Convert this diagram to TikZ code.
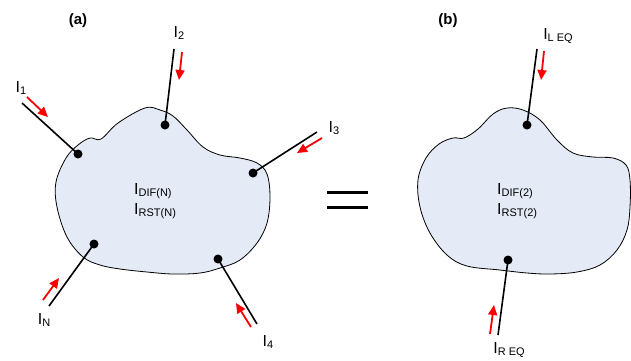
\documentclass[tikz,border=0pt]{standalone}
\usepackage{fontspec}
\setmainfont{Liberation Sans}
\usepackage{tikz}
\usetikzlibrary{arrows.meta, positioning, calc}
\definecolor{blobfill}{RGB}{228, 235, 246}
\definecolor{flowred}{RGB}{250, 0, 0}
\newcommand{\Icur}[1]{I\raisebox{-2pt}{\fontsize{11}{12}\selectfont #1}}
\tikzset{
  blob/.style={draw=black, line width=0.8pt, fill=blobfill},
  dot/.style={circle, fill=black, inner sep=0pt, minimum size=9pt},
  wire/.style={line width=1.6pt},
  flow/.style={flowred, line width=1.8pt, -{Triangle[length=10pt, width=9pt]}},
  curlabel/.style={inner sep=0pt, font=\fontsize{16}{19}\selectfont},
  panel/.style={inner sep=0pt, font=\fontsize{15}{18}\selectfont\bfseries}
}

\begin{document}
\begin{tikzpicture}[x=1pt, y=-1pt]
    \useasboundingbox (0,0) rectangle (631,360);

    % Network (a)
    \draw[blob] plot[smooth cycle, tension=0.6] coordinates {
      (56,182) (66,158) (78,145) (90,138) (101,139) (118,123) (145,108)
      (160,110) (173,116) (187,130) (203,147) (220,155) (240,158)
      (257,163) (267,174) (270,197) (267,223) (257,243) (240,260)
      (220,268) (200,273) (173,274) (147,272) (120,269) (100,265)
      (83,257) (67,237) (57,207)};
    \node[curlabel, anchor=west, align=left] (txta) at (134,201)
      {\Icur{DIF(N)}\\[1pt]\Icur{RST(N)}};

    % Network (b)
    \draw[blob] plot[smooth cycle, tension=0.6] coordinates {
      (418,180) (426,158) (439,144) (453,138) (464,138) (478,129)
      (493,114) (507,108) (523,110) (540,120) (557,140) (573,153)
      (593,157) (613,158) (626,165) (630,180) (630,207) (627,230)
      (617,250) (600,265) (577,272) (550,274) (527,273) (500,270)
      (467,266) (447,255) (430,233) (420,207)};
    \node[curlabel, anchor=west, align=left] (txtb) at (497,201)
      {\Icur{DIF(2)}\\[1pt]\Icur{RST(2)}};

    % Terminals
    \node[dot] (d1) at (78,154) {};
    \node[dot] (d2) at (165,125) {};
    \node[dot] (d3) at (253,173) {};
    \node[dot] (dn) at (94,244) {};
    \node[dot] (d4) at (218,259) {};
    \node[dot] (dl) at (527,125) {};
    \node[dot] (dr) at (508,260) {};

    \coordinate (e1) at (22,103);
    \coordinate (e2) at (174,49);
    \coordinate (e3) at (317,132);
    \coordinate (en) at (49,306);
    \coordinate (e4) at (257,324);
    \coordinate (el) at (537,49);
    \coordinate (er) at (498,335);

    \foreach \t in {1,2,3,n,4,l,r}
      \draw[wire] (e\t) -- (d\t.center);

    % Current directions
    \coordinate (f1a) at (27,97);   \coordinate (f1b) at (48,117);
    \coordinate (f2a) at (182,52);  \coordinate (f2b) at (179,80);
    \coordinate (f3a) at (322,138); \coordinate (f3b) at (297,153);
    \coordinate (fna) at (43,300);  \coordinate (fnb) at (59,278);
    \coordinate (f4a) at (251,327); \coordinate (f4b) at (236,303);
    \coordinate (fla) at (544,51);  \coordinate (flb) at (541,80);
    \coordinate (fra) at (490,334); \coordinate (frb) at (494,305);

    \foreach \t in {1,2,3,n,4,l,r}
      \draw[flow] (f\t a) -- (f\t b);

    % Labels
    \node[curlabel] (l1) at (21,88) {\Icur{1}};
    \node[curlabel] (l2) at (179,33) {\Icur{2}};
    \node[curlabel] (l3) at (334,128) {\Icur{3}};
    \node[curlabel] (ln) at (44,320) {\Icur{N}};
    \node[curlabel] (l4) at (268,342) {\Icur{4}};
    \node[curlabel] (ll) at (558,36) {\Icur{L EQ}};
    \node[curlabel] (lr) at (509,350) {\Icur{R EQ}};

    \node[panel] (pa) at (78,21) {(a)};
    \node[panel] (pb) at (448,21) {(b)};

    % Equivalence
    \coordinate (q1) at (327,192); \coordinate (q2) at (368,192);
    \coordinate (q3) at (327,207); \coordinate (q4) at (368,207);
    \draw[line width=3pt] (q1) -- (q2) (q3) -- (q4);
\end{tikzpicture}
\end{document}
